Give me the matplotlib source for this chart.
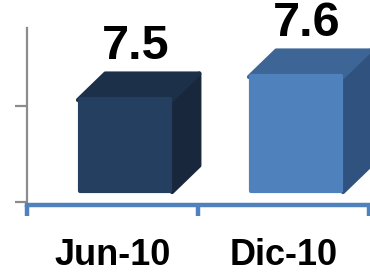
# fake 3D bar chart, two periods
import matplotlib
matplotlib.use('Agg')
import matplotlib.pyplot as plt
from matplotlib.patches import Polygon

# data
periods = ['Jun-10', 'Dic-10']
values = [7.5, 7.6]
front_colors = ['#253f60', '#4f81bd']
top_colors = ['#1d3049', '#3d6595']
side_colors = ['#18273c', '#30527e']

base = 7.1
width = 0.55
shift = 0.073     # front face centre offset from category centre
dx, dy = 0.16, 0.115  # depth of the cube

plt.rcParams['font.family'] = ['Liberation Sans', 'DejaVu Sans']

fig = plt.figure(figsize=(3.7, 2.74), dpi=100)
ax = fig.add_axes([0.073, 0.263, 0.927, 0.635])

for i, v in enumerate(values):
    x0 = i + shift - width / 2
    x1 = x0 + width
    # side face
    ax.add_patch(Polygon([(x1, base), (x1 + dx, base + dy), (x1 + dx, v + dy), (x1, v)],
                         closed=True, facecolor=side_colors[i], edgecolor=side_colors[i],
                         linewidth=3, joinstyle='round', zorder=2))
    # top face
    ax.add_patch(Polygon([(x0, v), (x1, v), (x1 + dx, v + dy), (x0 + dx, v + dy)],
                         closed=True, facecolor=top_colors[i], edgecolor=top_colors[i],
                         linewidth=3, joinstyle='round', zorder=2))
    # value label
    ax.text(i + shift + dx / 2 - 0.015, v + 0.18, str(v), ha='center', va='baseline',
            fontsize=35, fontweight='bold', color='black')

# front faces (round joins give soft corners)
ax.bar([i + shift for i in range(len(values))], [v - base for v in values], width=width - 0.02,
       bottom=base + 0.006, color=front_colors, edgecolor=front_colors, linewidth=3,
       joinstyle='round', zorder=3)

ax.set_xlim(-0.5, 1.506)
ax.set_ylim(7.057, 7.813)

# axes styling
for s in ['top', 'right']:
    ax.spines[s].set_visible(False)
ax.spines['left'].set_color('#8c8c8c')
ax.spines['left'].set_linewidth(1.6)
ax.spines['bottom'].set_color('#4f81bd')
ax.spines['bottom'].set_linewidth(3.2)
ax.spines['bottom'].set_position(('outward', 2))

ax.set_yticks([7.057, 7.474])
ax.set_yticklabels([])
ax.tick_params(axis='y', colors='#8c8c8c', length=9, width=1.6)

ax.set_xticks(range(len(periods)))
ax.set_xticklabels(periods, fontsize=26, fontweight='bold')
ax.set_xticks([-0.5, 0.5, 1.5], minor=True)
ax.tick_params(axis='x', which='major', length=0, pad=24)
ax.tick_params(axis='x', which='minor', length=8, width=3.2, color='#4f81bd')

fig.savefig('out.png', dpi=100)
